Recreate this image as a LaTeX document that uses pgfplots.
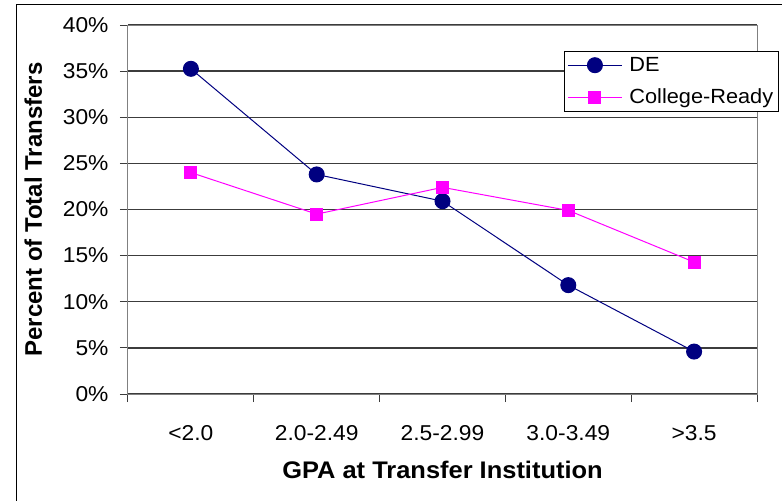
\documentclass[border=0pt]{standalone}
\usepackage{pgfplots}
\pgfplotsset{compat=1.18}
\usepackage{fontspec}
\setmainfont{Liberation Sans}[FakeStretch=1.06]
\newfontfamily\ylabfont{Liberation Sans}
\definecolor{denavy}{RGB}{0,0,128}
\definecolor{crpink}{RGB}{255,0,255}
\definecolor{gridc}{RGB}{60,60,60}
\begin{document}
\begin{tikzpicture}
% page = 782 x 501 px, axis box at px (128..757, 25..394)
\useasboundingbox (-128bp,-107bp) rectangle ++(782bp,501bp);
\begin{axis}[
    at={(0,0)}, anchor=south west,
    scale only axis,
    width=629bp, height=369bp,
    xmin=-0.5, xmax=4.5,
    ymin=0, ymax=40,
    xtick={0,1,2,3,4},
    xticklabels={<2.0,2.0-2.49,2.5-2.99,3.0-3.49,>3.5},
    minor xtick={-0.5,0.5,1.5,2.5,3.5,4.5},
    ytick={0,5,...,40},
    yticklabel={\pgfmathprintnumber{\tick}\%},
    /pgf/number format/assume math mode=true,
    tick align=outside,
    major x tick style={draw=none},
    minor tick length=8bp,
    major tick length=8bp,
    tick style={gridc, line width=1bp},
    xtick pos=bottom, ytick pos=left,
    ymajorgrids=true,
    grid style={gridc, line width=1.3bp},
    axis line style={gray, line width=1bp},
    tick label style={font=\fontsize{21.5bp}{24bp}\selectfont},
    yticklabel style={xshift=-8bp},
    xticklabel style={yshift=-20bp},
    xlabel={GPA at Transfer Institution},
    ylabel={\ylabfont\bfseries Percent of Total Transfers},
    label style={font=\bfseries\fontsize{24bp}{27bp}\selectfont},
    xlabel style={yshift=-14bp},
    ylabel style={yshift=14bp},
    clip=false,
    legend style={at={(rel axis cs:0.6932,0.9295)}, anchor=north west,
        draw=black, line width=0.8bp, fill=white,
        font=\fontsize{20.5bp}{24bp}\selectfont,
        inner xsep=3bp, inner ysep=4bp, row sep=12bp,
        /tikz/every odd column/.append style={column sep=5bp}},
    legend cell align=left,
    legend image code/.code={
        \draw[mark repeat=2,mark phase=2]
        plot coordinates {(0bp,0bp) (27bp,0bp) (54bp,0bp)};},
]
\addplot[color=denavy, line width=1bp, mark=*, mark size=7.5bp,
    mark options={fill=denavy, draw=denavy}]
    coordinates {(0,35.25) (1,23.8) (2,20.9) (3,11.8) (4,4.6)};
\addlegendentry{DE}
\addplot[color=crpink, line width=1bp, mark=square*, mark size=6bp,
    mark options={fill=crpink, draw=crpink}]
    coordinates {(0,24.0) (1,19.5) (2,22.4) (3,19.9) (4,14.3)};
\addlegendentry{College-Ready}
\end{axis}
\draw[black, line width=1.3bp]
    (-111.5bp,-120bp) -- (-111.5bp,389.5bp) -- (700bp,389.5bp);
\end{tikzpicture}
\end{document}
